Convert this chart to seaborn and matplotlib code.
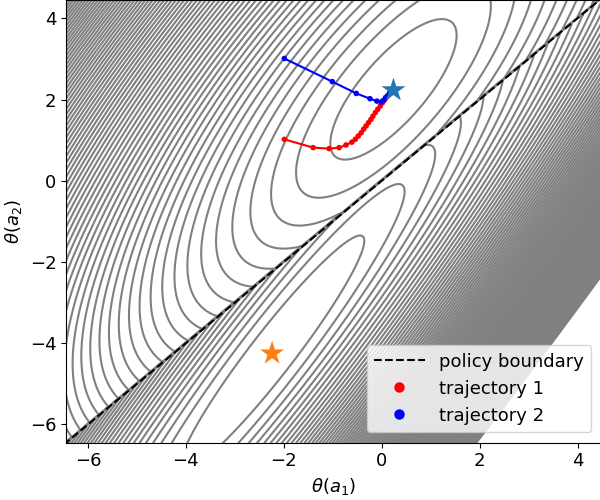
import numpy as np
import matplotlib
matplotlib.use("Agg")
import matplotlib.pyplot as plt
import seaborn as sns
from matplotlib.lines import Line2D

# ---- data ----
traj1_x = [-1.99, -1.40, -1.075, -0.87, -0.73, -0.61, -0.54, -0.48, -0.42, -0.37, -0.32,
           -0.27, -0.22, -0.18, -0.13, -0.08, -0.03, 0.015, 0.06, 0.11, 0.16, 0.20]
traj1_y = [1.02, 0.815, 0.79, 0.815, 0.88, 0.95, 1.02, 1.10, 1.18, 1.27, 1.35,
           1.43, 1.51, 1.59, 1.68, 1.76, 1.84, 1.92, 1.99, 2.07, 2.14, 2.20]
traj2_x = [-1.99, -1.01, -0.52, -0.24, -0.10, -0.01, 0.035, 0.08, 0.125, 0.165, 0.21]
traj2_y = [3.01, 2.44, 2.15, 2.02, 1.96, 1.94, 1.98, 2.05, 2.10, 2.17, 2.23]
star1 = (0.24, 2.23)     # blue star
star2 = (-2.24, -4.25)   # orange star
boundary_x = [-6.5, 4.6]
boundary_y = [-6.5, 4.6]

# surface parameters (piecewise quadratic loss on the two sides of the boundary)
c_up, ang_up, k_up_u, k_up_v, min_up = (0.24, 2.25), 55.6, 0.174, 1.48, 5.215
c_lo, ang_lo, k_lo_u, k_lo_v, min_lo = (-2.24, -4.25), 57.5, 0.08, 4.2, 0.0
level_start, level_stop, level_step = 0.94, 93.5, 1.0
grid_n = 400

def quad(X, Y, c, ang, ku, kv, m):
    a = np.deg2rad(ang)
    dx, dy = X - c[0], Y - c[1]
    u = dx * np.cos(a) + dy * np.sin(a)
    v = -dx * np.sin(a) + dy * np.cos(a)
    return m + ku * u ** 2 + kv * v ** 2

gx = np.linspace(-6.6, 4.7, grid_n)
gy = np.linspace(-6.6, 4.7, grid_n)
X, Y = np.meshgrid(gx, gy)
Z = np.where(Y > X,
             quad(X, Y, c_up, ang_up, k_up_u, k_up_v, min_up),
             quad(X, Y, c_lo, ang_lo, k_lo_u, k_lo_v, min_lo))
levels = np.arange(level_start, level_stop, level_step)

fig = plt.figure(figsize=(6, 5), dpi=100)
ax = fig.add_axes([66 / 600, 57.3 / 500, (602 - 66) / 600, 442.7 / 500])

ax.contour(X, Y, Z, levels=levels, colors="gray", linewidths=1.5)
ax.plot(boundary_x, boundary_y, "k--", lw=1.5)

sns.lineplot(x=traj1_x, y=traj1_y, sort=False, estimator=None, color="red", lw=1.5, ax=ax, legend=False)
sns.scatterplot(x=traj1_x, y=traj1_y, color="red", s=16, edgecolor="none", ax=ax, legend=False, zorder=3)
sns.lineplot(x=traj2_x, y=traj2_y, sort=False, estimator=None, color="blue", lw=1.5, ax=ax, legend=False)
sns.scatterplot(x=traj2_x, y=traj2_y, color="blue", s=16, edgecolor="none", ax=ax, legend=False, zorder=3)

sns.scatterplot(x=[star1[0]], y=[star1[1]], marker="*", s=330, color="tab:blue", edgecolor="none", ax=ax, legend=False, zorder=4)
sns.scatterplot(x=[star2[0]], y=[star2[1]], marker="*", s=330, color="tab:orange", edgecolor="none", ax=ax, legend=False, zorder=4)

ax.set_xlim(-6.45, 4.5)
ax.set_ylim(-6.45, 4.45)
ax.set_xticks([-6, -4, -2, 0, 2, 4])
ax.set_yticks([-6, -4, -2, 0, 2, 4])
ax.tick_params(labelsize=13)
ax.set_xlabel(r"$\theta(a_1)$", fontsize=13)
ax.set_ylabel(r"$\theta(a_2)$", fontsize=13)

handles = [
    Line2D([], [], color="k", ls="--", lw=1.5),
    Line2D([], [], color="red", marker="o", ls="none", markersize=6.5),
    Line2D([], [], color="blue", marker="o", ls="none", markersize=6.5),
]
ax.legend(handles, ["policy boundary", "trajectory 1", "trajectory 2"],
          loc="lower right", fontsize=13, borderaxespad=0.6, handlelength=2.8)

fig.savefig("out.png", dpi=100)
